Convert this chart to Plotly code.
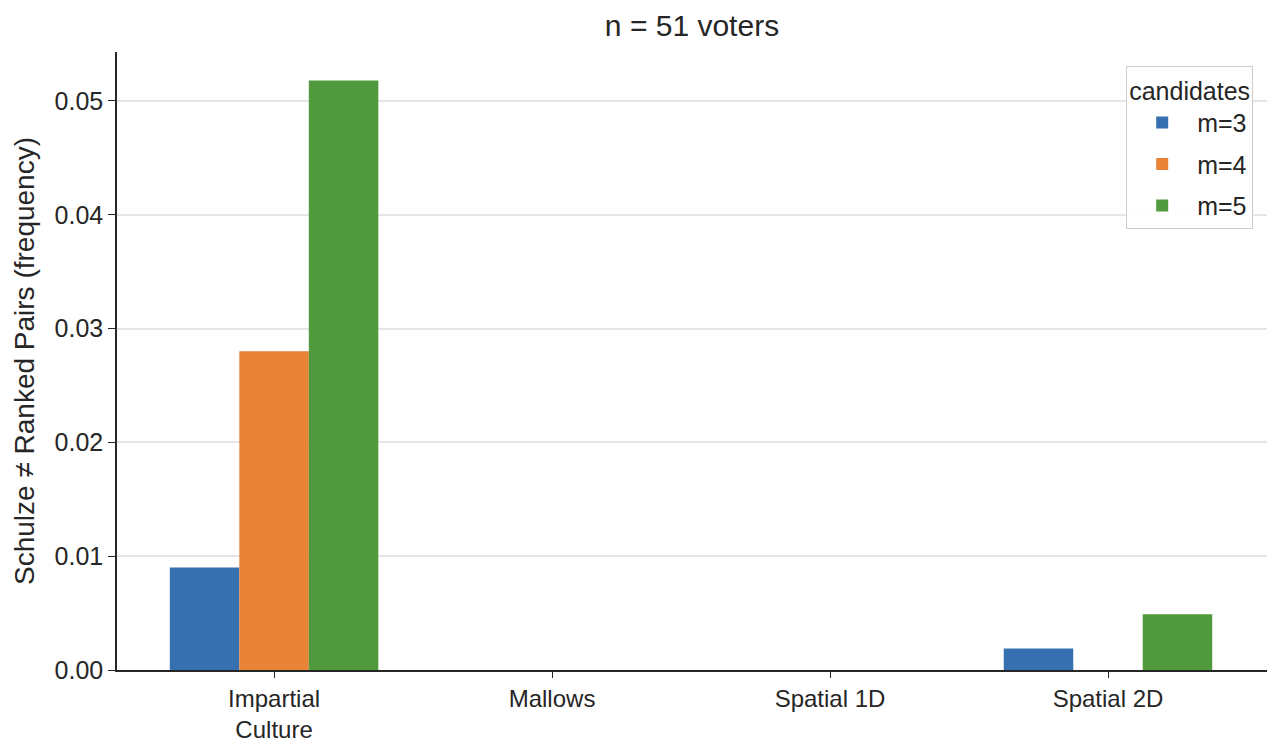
import plotly.graph_objects as go

categories = ["Impartial<br>Culture", "Mallows", "Spatial 1D", "Spatial 2D"]
series_names = ["m=3", "m=4", "m=5"]
m3 = [0.0090, 0.0, 0.0, 0.0019]
m4 = [0.0280, 0.0, 0.0, 0.0]
m5 = [0.0518, 0.0, 0.0, 0.0049]
colors = ["#3670B0", "#E98335", "#51993D"]

fig = go.Figure()
for name, vals, col in zip(series_names, [m3, m4, m5], colors):
    fig.add_trace(go.Bar(x=list(range(len(categories))), y=vals, name=name,
                         legendgroup=name,
                         marker=dict(color=col, line=dict(width=0))))

fig.update_layout(
    barmode="group", bargap=0.25, bargroupgap=0,
    width=1267, height=742,
    margin=dict(l=117, r=0, t=52, b=72),
    plot_bgcolor="white", paper_bgcolor="white",
    font=dict(family="Liberation Sans, Arial, sans-serif", size=23, color="#262626"),
    title=dict(text="n = 51 voters", x=0.5, xref="paper", xanchor="center",
               yref="container", y=0.966, yanchor="middle",
               font=dict(family="Liberation Sans, Arial, sans-serif", size=30)),
    legend=dict(title=dict(text="candidates", side="top",
                           font=dict(family="Liberation Sans, Arial, sans-serif", size=25)),
                x=0.988, xanchor="right", y=0.977, yanchor="top",
                bgcolor="rgba(255,255,255,0.9)", bordercolor="#cccccc", borderwidth=1,
                font=dict(family="Liberation Sans, Arial, sans-serif", size=25),
                itemwidth=60, tracegroupgap=6),
    showlegend=True,
)
fig.update_xaxes(tickmode="array", tickvals=list(range(len(categories))), ticktext=categories,
                 range=[-0.565, 3.572], showline=True, linecolor="#262626", linewidth=1.5,
                 ticks="outside", ticklen=6, tickcolor="#262626", showgrid=False, zeroline=False,
                 automargin=False,
                 tickfont=dict(family="Liberation Sans, Arial, sans-serif", size=24))
fig.update_yaxes(range=[0, 0.0543], tickvals=[0, 0.01, 0.02, 0.03, 0.04, 0.05], tickformat=".2f",
                 showline=True, linecolor="#262626", linewidth=1.5, ticks="outside", ticklen=7,
                 tickcolor="#262626", showgrid=True, gridcolor="#e6e6e6", gridwidth=1.5,
                 zeroline=False, automargin=False,
                 tickfont=dict(family="Liberation Sans, Arial, sans-serif", size=25),
                 title=dict(text="Schulze ≠ Ranked Pairs (frequency)", standoff=12))

fig.write_html("out.html")
